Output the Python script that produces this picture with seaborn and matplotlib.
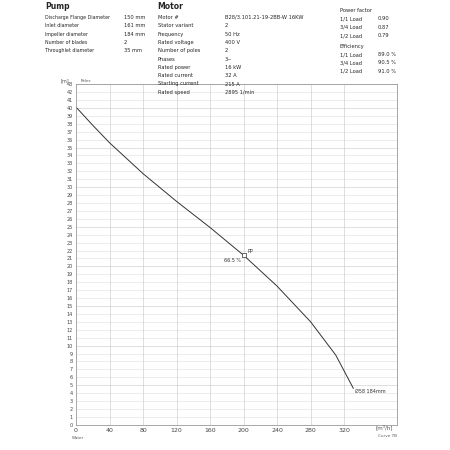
import matplotlib
matplotlib.use("Agg")
import matplotlib.pyplot as plt
import seaborn as sns
import numpy as np
import pandas as pd

flow = [0, 20, 40, 80, 120, 160, 200, 240, 280, 310, 331]
head = [40.1, 37.8, 35.6, 31.7, 28.2, 24.9, 21.4, 17.5, 13.0, 8.8, 4.6]
xticks = [0, 40, 80, 120, 160, 200, 240, 280, 320]
yticks = list(range(0, 44))

sns.set_style("white")
plt.rcParams['font.family'] = ['DejaVu Sans']
fig = plt.figure(figsize=(4.5, 4.5), dpi=100)
ax = fig.add_axes([0.169, 0.056, 0.713, 0.757])
df = pd.DataFrame({"Q": flow, "H": head})
sns.lineplot(data=df, x="Q", y="H", ax=ax, color="#333333", lw=0.7)
ax.set_xlim(0, 383)
ax.set_ylim(0, 43)
ax.set_xticks(xticks)
ax.set_xticklabels([str(v) for v in xticks], fontsize=4.5, color="#444")
ax.set_yticks(yticks)
ax.set_yticklabels([str(v) for v in yticks], fontsize=3.5, color="#444")
ax.set_xlabel(""); ax.set_ylabel("")
for y in yticks:
    ax.axhline(y, color="#dddddd" if y % 5 else "#c8c8c8", lw=0.4, zorder=0)
for x in xticks[1:]:
    ax.axvline(x, color="#d0d0d0", lw=0.5, zorder=0)
ax.tick_params(length=1.5, width=0.4, pad=1)
for s in ax.spines.values():
    s.set_color("#999"); s.set_linewidth(0.6)
ax.plot([flow[6]], [head[6]], marker="s", mfc="white", mec="#333", ms=3, mew=0.5)
ax.text(flow[6] + 5, head[6] + 0.3, "PP", fontsize=3.5, color="#333")
ax.text(flow[6] - 3, head[6] - 0.9, "66.5 %", fontsize=3.5, color="#333", ha="right")
ax.text(flow[-1] + 2, head[-1] - 0.6, "Ø58 184mm", fontsize=3.5, color="#333")
ax.text(5, 43.3, "Pelec", fontsize=3, color="#555")
fig.text(0.135, 0.818, "[m]", fontsize=3.5, color="#555")
fig.text(0.16, 0.025, "Water", fontsize=3, color="#555")
fig.text(0.835, 0.047, "[m³/h]", fontsize=4, color="#555")
fig.text(0.84, 0.028, "Curve 7B", fontsize=3, color="#555")

fs = 3.7
fig.text(0.10, 0.995, "Pump", fontsize=5.5, weight="bold", va="top")
fig.text(0.35, 0.995, "Motor", fontsize=5.5, weight="bold", va="top")
pump = [("Discharge Flange Diameter", "150 mm"), ("Inlet diameter", "161 mm"),
        ("Impeller diameter", "184 mm"), ("Number of blades", "2"), ("Throughlet diameter", "35 mm")]
motor = [("Motor #", "B28/3.101.21-19-2BB-W 16KW"), ("Stator variant", "2"), ("Frequency", "50 Hz"),
         ("Rated voltage", "400 V"), ("Number of poles", "2"), ("Phases", "3~"), ("Rated power", "16 kW"),
         ("Rated current", "32 A"), ("Starting current", "215 A"), ("Rated speed", "2895 1/min")]
pf = [("Power factor", ""), ("1/1 Load", "0.90"), ("3/4 Load", "0.87"), ("1/2 Load", "0.79"),
      ("Efficiency", ""), ("1/1 Load", "89.0 %"), ("3/4 Load", "90.5 %"), ("1/2 Load", "91.0 %")]
lh = 0.0185
for i, (a, b) in enumerate(pump):
    y = 0.958 - i * lh
    fig.text(0.10, y, a, fontsize=3.4); fig.text(0.275, y, b, fontsize=fs)
for i, (a, b) in enumerate(motor):
    y = 0.958 - i * lh
    fig.text(0.35, y, a, fontsize=fs); fig.text(0.50, y, b, fontsize=fs)
for i, (a, b) in enumerate(pf):
    y = 0.973 - i * lh - (0.005 if i >= 4 else 0)
    fig.text(0.755, y, a, fontsize=fs); fig.text(0.84, y, b, fontsize=fs)
fig.savefig("out.png", dpi=100, facecolor="white")
